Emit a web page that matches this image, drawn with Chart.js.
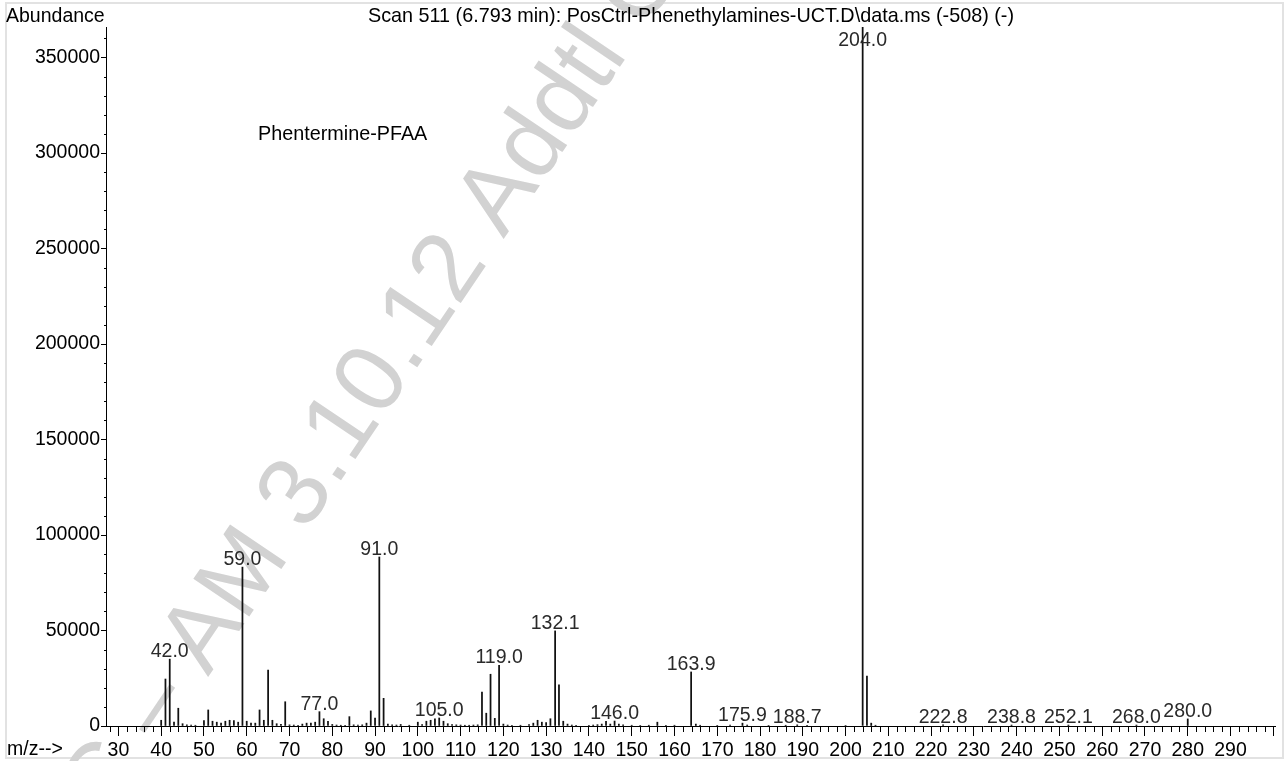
<!DOCTYPE html>
<html>
<head>
<meta charset="utf-8">
<title>Phentermine-PFAA mass spectrum</title>
<script src="https://cdn.jsdelivr.net/npm/chart.js@4.4.1/dist/chart.umd.min.js"></script>
<style>
  html, body { margin: 0; padding: 0; background: #fff; }
  #wrap { width: 1286px; height: 761px; }
</style>
</head>
<body>
<div id="wrap"><canvas id="msChart" width="1286" height="761"></canvas></div>
<script>
// m/z of every stick and its abundance
const mz = [
  40, 41, 42, 43, 44, 45, 46, 47, 48, 50, 51, 52, 53, 54, 55, 56, 57, 58, 59, 60,
  61, 62, 63, 64, 65, 66, 67, 68, 69, 70, 71, 72, 73, 74, 75, 76, 77, 78, 79, 80,
  81, 82, 83, 84, 85, 86, 87, 88, 89, 90, 91, 92, 93, 94, 95, 96, 98, 100, 101, 102,
  103, 104, 105, 106, 107, 108, 109, 110, 111, 112, 113, 114, 115, 116, 117, 118, 119, 120, 121, 122,
  124, 126, 127, 128, 129, 130, 131, 132.1, 133, 134, 135, 136, 137, 140, 141, 142, 143, 144, 145, 146,
  147, 148, 150, 152, 154, 156, 158, 160, 163.9, 165, 166, 170, 173, 175.9, 177, 182, 186, 188.7, 191, 200,
  204, 205, 206, 207, 222.8, 238.8, 252.1, 268.0, 280.0
];
const abundance = [
  3000, 24600, 35000, 2000, 9300, 1200, 600, 500, 400, 2800, 8400, 2500, 2000, 1500, 2500, 3000, 2800, 2000, 83200, 2500,
  1500, 1500, 8400, 3000, 29300, 3000, 1200, 900, 12700, 600, 500, 400, 1000, 1500, 1500, 2000, 7500, 3800, 2500, 800,
  500, 400, 400, 4900, 600, 500, 600, 1500, 7900, 4200, 88500, 14500, 1000, 600, 500, 800, 400, 2000, 800, 2500,
  3000, 3800, 4200, 2500, 1200, 800, 600, 500, 400, 400, 500, 600, 17700, 6700, 27100, 4000, 31800, 1000, 500, 400,
  400, 700, 1500, 3000, 2000, 1800, 3800, 49800, 21500, 2500, 1000, 500, 400, 400, 500, 700, 1000, 2500, 1000, 2600,
  1000, 600, 400, 300, 400, 2000, 400, 400, 28300, 1000, 400, 300, 500, 1500, 500, 300, 400, 600, 300, 300,
  366000, 26200, 1500, 400, 600, 500, 500, 500, 3700
];
// peaks that carry an m/z label
const peakLabels = [
  "42.0", "59.0", "77.0", "91.0", "105.0", "119.0", "132.1", "146.0", "163.9",
  "175.9", "188.7", "204.0", "222.8", "238.8", "252.1", "268.0", "280.0"
];
// axis ticks
const xTicks = [30, 40, 50, 60, 70, 80, 90, 100, 110, 120, 130, 140, 150, 160, 170, 180, 190, 200,
  210, 220, 230, 240, 250, 260, 270, 280, 290, 300];
const yTicks = [0, 50000, 100000, 150000, 200000, 250000, 300000, 350000];

const titleText = "Scan 511 (6.793 min): PosCtrl-Phenethylamines-UCT.D\\data.ms (-508) (-)";
const compoundName = "Phentermine-PFAA";
const watermarkText = "QC \u2013 AM 3.10.12 Addtl Co";
const fontFamily = '"Liberation Sans", Arial, Helvetica, sans-serif';

const points = mz.map((m, i) => ({ x: m, y: abundance[i] }));

const decorPlugin = {
  id: "decor",
  beforeDraw(chart) {
    const ctx = chart.ctx;
    ctx.save();
    // outer frame
    ctx.strokeStyle = "#e2e2e2";
    ctx.lineWidth = 2;
    ctx.strokeRect(6, 3, 1277, 755);
    // watermark
    ctx.font = "98px " + fontFamily;
    ctx.fillStyle = "#d2d2d2";
    ctx.textBaseline = "middle";
    ctx.translate(140, 730);
    ctx.rotate(-56 * Math.PI / 180);
    const pre = ctx.measureText("QC ").width;
    ctx.fillText(watermarkText, -pre, 0);
    ctx.restore();
  },
  afterDraw(chart) {
    const ctx = chart.ctx;
    const area = chart.chartArea;
    const xs = chart.scales.x;
    const ys = chart.scales.y;
    ctx.save();

    // minor ticks
    ctx.strokeStyle = "#000";
    ctx.lineWidth = 1;
    ctx.beginPath();
    for (let v = 28; v <= 300; v += 2) {
      if (v % 10 === 0) continue;
      const px = Math.round(xs.getPixelForValue(v)) + 0.5;
      ctx.moveTo(px, area.bottom);
      ctx.lineTo(px, area.bottom + 6);
    }
    for (let v = 10000; v <= 360000; v += 10000) {
      if (v % 50000 === 0) continue;
      const py = Math.round(ys.getPixelForValue(v)) + 0.5;
      ctx.moveTo(area.left - 2, py);
      ctx.lineTo(area.left, py);
    }
    ctx.stroke();

    // texts
    ctx.fillStyle = "#000";
    ctx.font = "19.5px " + fontFamily;
    ctx.textBaseline = "alphabetic";
    ctx.textAlign = "left";
    ctx.fillText("Abundance", 6, 22);
    ctx.fillText("m/z-->", 7, 755);
    ctx.font = "19.8px " + fontFamily;
    ctx.fillText(compoundName, 258, 140);
    ctx.textAlign = "center";
    ctx.fillText(titleText, 691, 22);

    // peak labels
    const meta = chart.getDatasetMeta(0);
    ctx.font = "19.5px " + fontFamily;
    ctx.fillStyle = "#2a2a2a";
    peakLabels.forEach((lab) => {
      const idx = mz.indexOf(parseFloat(lab));
      if (idx < 0) return;
      const bar = meta.data[idx];
      const top = Math.max(bar.y, area.top);
      const base = Math.max(top - 2, area.top + 19);
      ctx.fillText(lab, bar.x, base);
    });
    ctx.restore();
  }
};

const ctx = document.getElementById("msChart");

const myChart = new Chart(ctx, {
  type: "bar",
  data: {
    datasets: [
      {
        label: "Abundance",
        data: points,
        backgroundColor: "#111",
        borderWidth: 0,
        barThickness: 1.1,
      },
    ],
  },
  options: {
    responsive: false,
    animation: false,
    layout: { padding: { top: 27, right: 11, left: 0, bottom: 0 } },
    scales: {
      x: {
        type: "linear",
        offset: false,
        min: 27.1,
        max: 300.4,
        afterFit: (s) => { s.height = 35; },
        afterBuildTicks: (s) => { s.ticks = xTicks.map((v) => ({ value: v })); },
        border: { color: "#000", width: 1 },
        grid: { drawOnChartArea: false, offset: false, tickLength: 10, tickColor: "#000" },
        ticks: {
          autoSkip: false,
          maxRotation: 0,
          padding: 3,
          color: "#000",
          font: { family: fontFamily, size: 19.5 },
          callback: (v) => (v < 300 ? String(v) : ""),
        },
      },
      y: {
        min: 0,
        max: 366000,
        afterFit: (s) => { s.width = 106; },
        afterBuildTicks: (s) => { s.ticks = yTicks.map((v) => ({ value: v })); },
        border: { color: "#000", width: 1 },
        grid: { drawOnChartArea: false, tickLength: 5, tickColor: "#000" },
        ticks: {
          autoSkip: false,
          padding: 1,
          color: "#000",
          font: { family: fontFamily, size: 19.5 },
          callback: (v) => String(v),
        },
      },
    },
    plugins: {
      legend: { display: false },
      tooltip: { enabled: false },
    },
  },
  plugins: [decorPlugin],
});
</script>
</body>
</html>
